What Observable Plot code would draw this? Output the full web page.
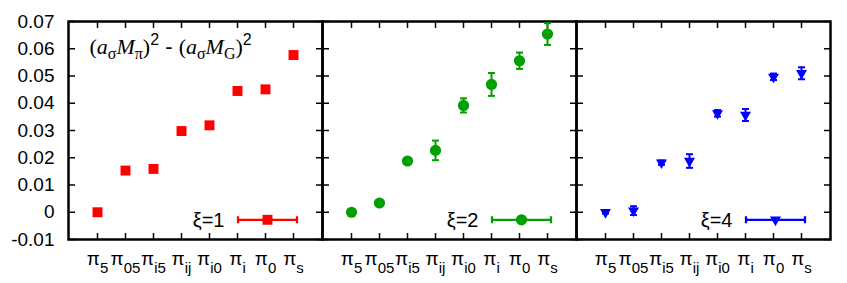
<!DOCTYPE html>
<html>
<head>
<meta charset="utf-8">
<script src="https://cdn.jsdelivr.net/npm/d3@7"></script>
<script src="https://cdn.jsdelivr.net/npm/@observablehq/plot@0.6"></script>
<style>
  html, body { margin: 0; padding: 0; background: #fff; }
  #chart { width: 847px; height: 283px; }
</style>
</head>
<body>
<div id="chart"></div>
<script>
// ---- data ----
const categories = ["5", "05", "i5", "ij", "i0", "i", "0", "s"]; // subscripts of π
const panels = ["ξ=1", "ξ=2", "ξ=4"];
const panelColors = ["#ff0000", "#00a000", "#0000ff"];

const values1 = [0.0000, 0.0153, 0.0159, 0.0298, 0.0319, 0.0445, 0.0451, 0.0577];
const errors1 = [0, 0, 0, 0, 0, 0, 0, 0];
const values2 = [0.0000, 0.0034, 0.0188, 0.0227, 0.0392, 0.0469, 0.0556, 0.0654];
const errors2 = [0, 0, 0, 0.0036, 0.0026, 0.0042, 0.0030, 0.0040];
const values4 = [0.0000, 0.0006, 0.0182, 0.0188, 0.0363, 0.0357, 0.0497, 0.0510];
const errors4 = [0.0005, 0.0016, 0.0008, 0.0025, 0.0012, 0.0022, 0.0012, 0.0022];

const yTicks = [-0.01, 0, 0.01, 0.02, 0.03, 0.04, 0.05, 0.06, 0.07];

// formula label pieces: [text, family, style, shift]
const formula = [
  ["(", "serif", "normal", "base"], ["a", "serif", "italic", "base"], ["σ", "serif", "normal", "sub"],
  ["M", "serif", "italic", "base"], ["π", "serif", "normal", "sub"], [")", "serif", "normal", "base"],
  ["2", "sans", "normal", "sup"], [" - ", "sans", "normal", "base"],
  ["(", "serif", "normal", "base"], ["a", "serif", "italic", "base"], ["σ", "serif", "normal", "sub"],
  ["M", "serif", "italic", "base"], ["G", "serif", "normal", "sub"], [")", "serif", "normal", "base"],
  ["2", "sans", "normal", "sup"]
];
const formulaText = formula.map(f => f[0]).join("");

// ---- build table ----
const series = [
  {values: values1, errors: errors1},
  {values: values2, errors: errors2},
  {values: values4, errors: errors4}
];
const rows = panels.flatMap((p, k) =>
  categories.map((c, i) => ({panel: p, cat: c, value: series[k].values[i], err: series[k].errors[i]}))
);

const SANS = "'Liberation Sans', Arial, Helvetica, sans-serif";
const SERIF = "'Liberation Serif', 'Times New Roman', serif";

const legendBar = {
  draw(context) {
    const w = 29.5, h = 3.5;
    context.moveTo(-w, 0); context.lineTo(w, 0);
    context.moveTo(-w, -h); context.lineTo(-w, h);
    context.moveTo(w, -h); context.lineTo(w, h);
  }
};
const capSymbol = {
  draw(context) {
    context.moveTo(-3.5, 0); context.lineTo(3.5, 0);
  }
};

const symbols = ["square", "circle", "triangle"];
const radii = [5.6, 5.6, 4.1];
const rotations = [0, 0, 180];

const marks = [
  Plot.frame({strokeWidth: 2.5}),
  Plot.axisY(yTicks, {anchor: "left", tickSize: 0, tickPadding: 14, fontSize: 19,
    tickFormat: d => d === 0 ? "0" : d.toFixed(2), label: null}),
  Plot.axisY(yTicks, {anchor: "left", tickSize: -7, fill: "none", facetAnchor: null, strokeWidth: 1.5, label: null}),
  Plot.axisY(yTicks, {anchor: "right", tickSize: -7, fill: "none", facetAnchor: null, strokeWidth: 1.5, label: null}),
  Plot.axisX({anchor: "bottom", tickSize: -6, fill: "none", facetAnchor: null, strokeWidth: 1.5, label: null}),
  Plot.axisX({anchor: "top", tickSize: -6, fill: "none", facetAnchor: null, strokeWidth: 1.5, label: null}),
  Plot.axisX({anchor: "bottom", tickSize: 0, tickPadding: 12, fontSize: 19, tickFormat: d => "π" + d, label: null}),
  Plot.text([formulaText], {fx: () => panels[0], frameAnchor: "top-left", dx: 21, dy: 32, lineAnchor: "bottom",
    textAnchor: "start", text: d => d, fontSize: 22})
];

panels.forEach((p, k) => {
  const color = panelColors[k];
  const data = rows.filter(d => d.panel === p);
  const withErr = data.filter(d => d.err > 0);
  marks.push(
    Plot.ruleX(withErr, {x: "cat", y1: d => d.value - d.err, y2: d => d.value + d.err, fx: "panel", stroke: color, strokeWidth: 2}),
    Plot.dot(withErr, {x: "cat", y: d => d.value + d.err, fx: "panel", symbol: capSymbol, r: 3, fill: "none", stroke: color, strokeWidth: 2}),
    Plot.dot(withErr, {x: "cat", y: d => d.value - d.err, fx: "panel", symbol: capSymbol, r: 3, fill: "none", stroke: color, strokeWidth: 2}),
    Plot.dot(data, {x: "cat", y: "value", fx: "panel", symbol: symbols[k], r: radii[k], fill: color, stroke: "none", rotate: rotations[k]}),
    Plot.text([p], {fx: d => d, text: d => d, frameAnchor: "bottom-right", textAnchor: "end", lineAnchor: "bottom", dx: -98, dy: -12.3, fontSize: 20}),
    Plot.dot([p], {fx: d => d, frameAnchor: "bottom-right", dx: -55, dy: -19.7, symbol: legendBar, r: 5, fill: "none", stroke: color, strokeWidth: 2.3}),
    Plot.dot([p], {fx: d => d, frameAnchor: "bottom-right", dx: -55, dy: -19.7, symbol: symbols[k], r: radii[k], fill: color, stroke: "none", rotate: rotations[k]})
  );
});

const chart = Plot.plot({
  width: 847,
  height: 283,
  marginLeft: 67,
  marginRight: 17,
  marginTop: 21,
  marginBottom: 44,
  style: {fontFamily: SANS, fontSize: "19px", color: "#000", background: "#fff"},
  fx: {domain: panels, padding: 0, axis: null},
  x: {type: "point", domain: categories, padding: 1},
  y: {domain: [-0.01, 0.07]},
  marks
});

// x tick labels: π with subscripts
d3.select(chart).selectAll('g[aria-label="x-axis tick label"] text').each(function () {
  const t = this.textContent;
  const sel = d3.select(this);
  sel.text(null);
  sel.append("tspan").text(t.slice(0, 1));
  sel.append("tspan").attr("font-size", 15).attr("dy", 8).text(t.slice(1));
});

// formula label with italics, subscripts, superscripts
d3.select(chart).selectAll("text").filter(function () { return this.textContent === formulaText; }).each(function () {
  const sel = d3.select(this);
  sel.text(null);
  const shifts = {base: 0, sub: 5, sup: -9};
  let cur = 0;
  formula.forEach(([txt, fam, sty, sh]) => {
    const target = shifts[sh];
    sel.append("tspan")
      .attr("font-family", fam === "serif" ? SERIF : SANS)
      .attr("font-style", sty)
      .attr("font-size", sh === "base" ? 22 : 16)
      .attr("dy", target - cur)
      .style("white-space", "pre")
      .text(txt);
    cur = target;
  });
});

document.getElementById("chart").appendChild(chart);
</script>
</body>
</html>
